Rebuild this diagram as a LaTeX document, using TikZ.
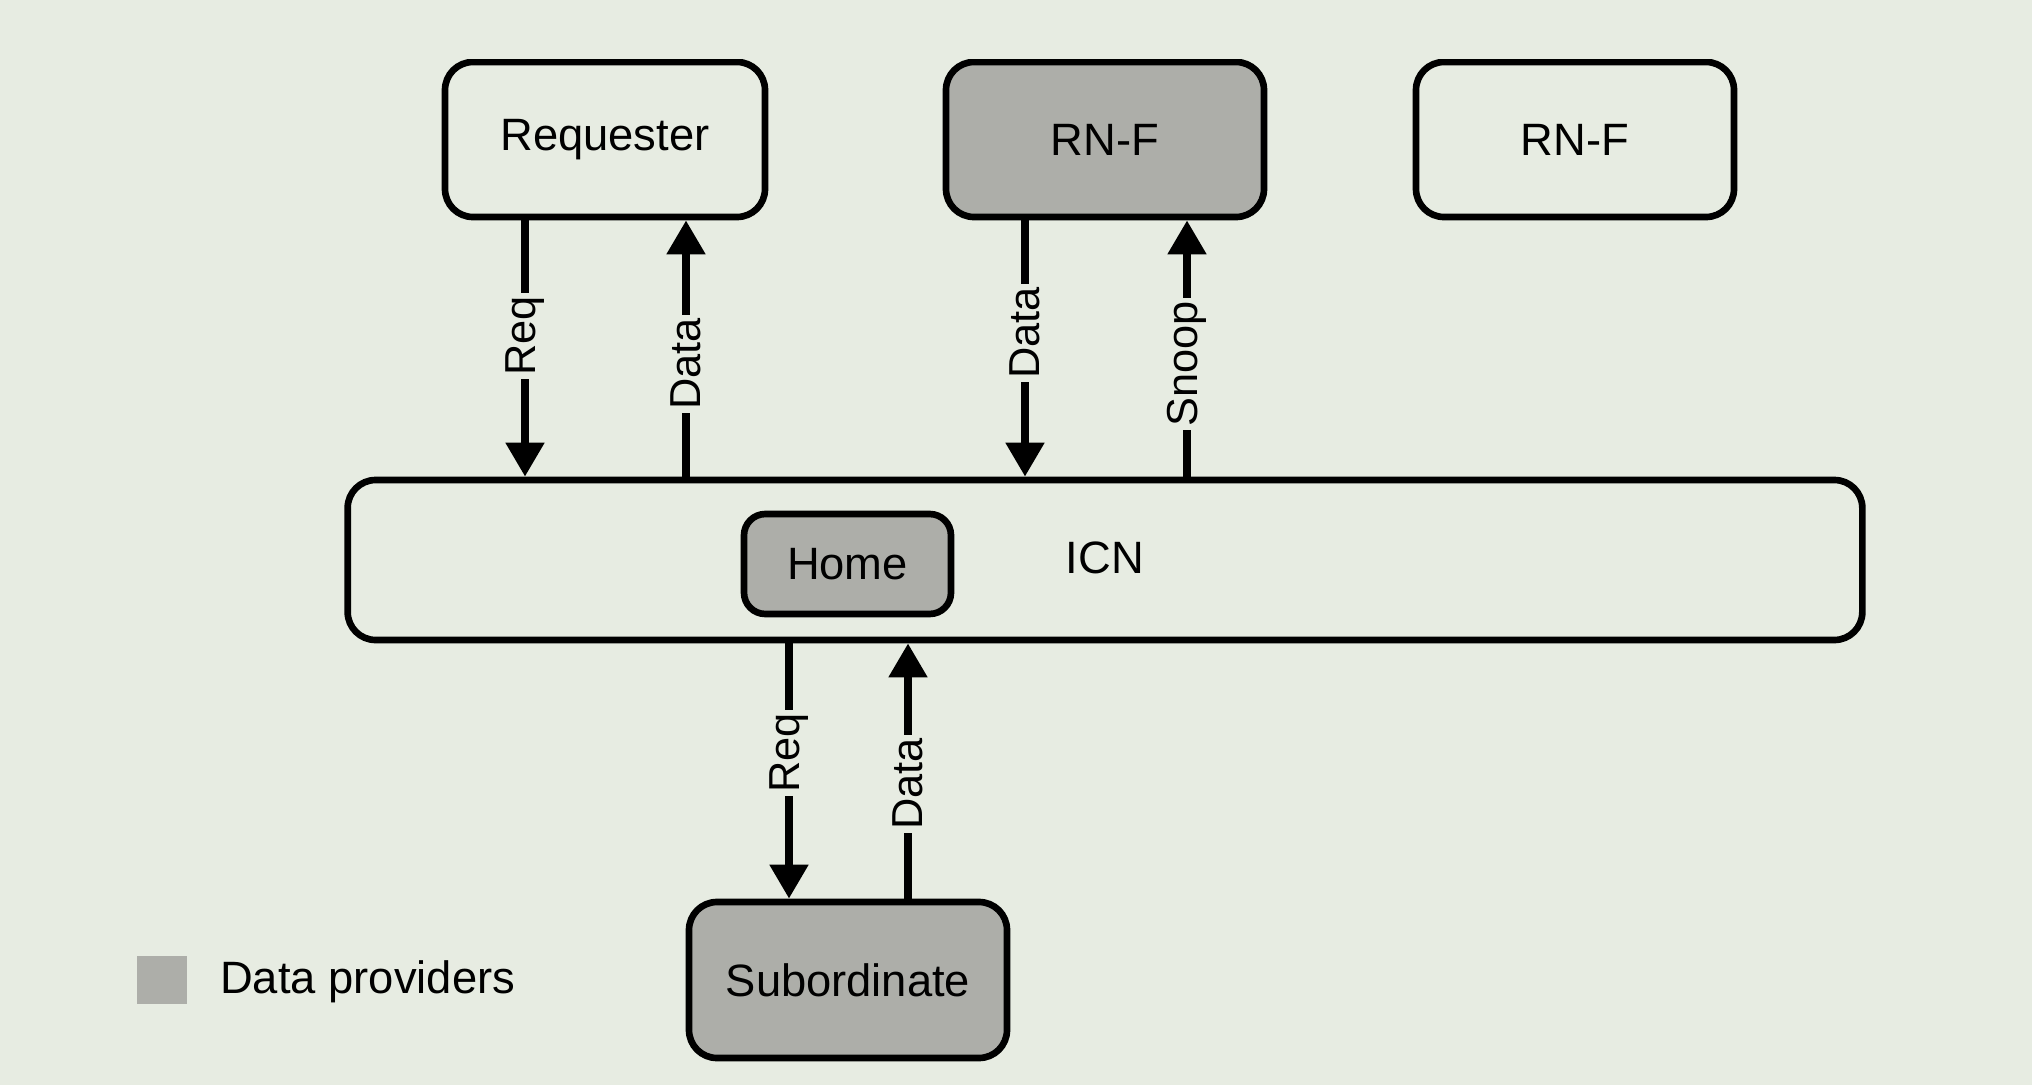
\documentclass[tikz,border=0pt]{standalone}
\usepackage{fontspec}
\setmainfont{Liberation Sans}
\usetikzlibrary{arrows.meta}
\definecolor{bgc}{HTML}{E7ECE2}
\definecolor{prov}{HTML}{ADAEA9}
\begin{document}
\begin{tikzpicture}[x=0.75pt,y=-0.75pt,
  box/.style={draw=black, line width=5pt, rounded corners=21pt, inner sep=0pt,
    font=\fontsize{34}{40}\selectfont},
  whitebox/.style={box, fill=bgc},
  greybox/.style={box, fill=prov},
  flow/.style={line width=6pt, -{Triangle[length=25.5pt,width=27.75pt]}},
  lbl/.style={fill=bgc, rotate=90, inner sep=2.5pt, font=\fontsize{32.5}{38}\selectfont}]
\fill[bgc] (0,0) rectangle (2032,1085);
\useasboundingbox (0,0) rectangle (2032,1085);
\begin{scope}
  \clip (0,59) rectangle (2032,1085);
  \node[whitebox, minimum width=240pt, minimum height=116.25pt] (req) at (605,139.5) {Requester};
  \node[greybox, minimum width=238.5pt, minimum height=116.25pt] (rnf1) at (1105,139.5) {RN-F};
  \node[whitebox, minimum width=238.5pt, minimum height=116.25pt] (rnf2) at (1575,139.5) {RN-F};
\end{scope}
\node[whitebox, minimum width=1136pt, minimum height=120pt] (icn) at (1105,560) {};
\node[font=\fontsize{34}{40}\selectfont, inner sep=0pt] (icnlbl) at (1105,558) {ICN};
\node[greybox, rounded corners=16pt, minimum width=155.25pt, minimum height=75pt] (home) at (847.5,564) {Home};
\node[greybox, minimum width=238.5pt, minimum height=117pt] (sub) at (848,980) {Subordinate};
\node[fill=prov, minimum width=37.5pt, minimum height=36pt, inner sep=0pt] (leg) at (162,980) {};
\node[anchor=west, inner sep=0pt, font=\fontsize{34}{40}\selectfont] (legtxt) at (220,982) {Data providers};
\coordinate (c1) at (525,0);
\coordinate (c2) at (686,0);
\coordinate (c3) at (1025,0);
\coordinate (c4) at (1187,0);
\coordinate (c5) at (789,0);
\coordinate (c6) at (908,0);
\draw[flow] (req.south -| c1) -- (icn.north -| c1) node[lbl, pos=0.45] {Req};
\draw[flow] (icn.north -| c2) -- (req.south -| c2) node[lbl, pos=0.44] {Data};
\draw[flow] (rnf1.south -| c3) -- (icn.north -| c3) node[lbl, pos=0.44] {Data};
\draw[flow] (icn.north -| c4) -- (rnf1.south -| c4) node[lbl, pos=0.44] {Snoop};
\draw[flow] (icn.south -| c5) -- (sub.north -| c5) node[lbl, pos=0.43] {Req};
\draw[flow] (sub.north -| c6) -- (icn.south -| c6) node[lbl, pos=0.45] {Data};
\end{tikzpicture}
\end{document}
